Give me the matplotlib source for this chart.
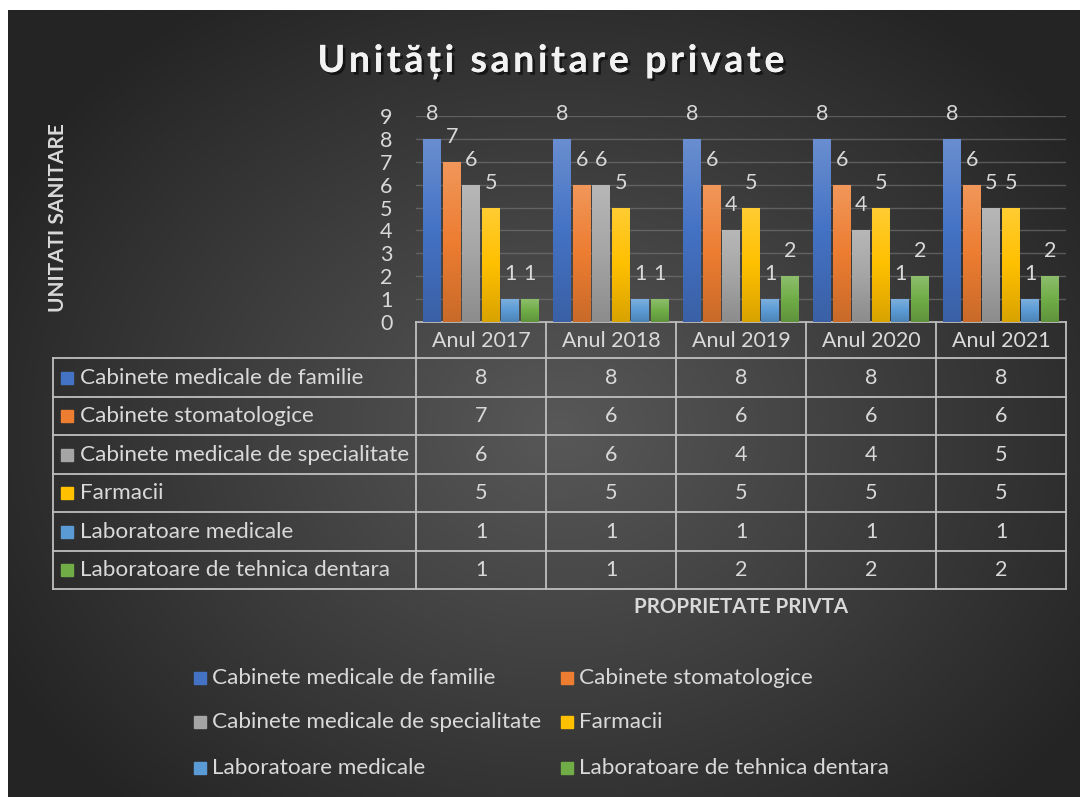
import numpy as np
import matplotlib
matplotlib.use("Agg")
import matplotlib.pyplot as plt
import matplotlib.patheffects as pe
from matplotlib.colors import LinearSegmentedColormap, to_rgb
from matplotlib.font_manager import FontProperties, findfont, get_font
from matplotlib.textpath import TextPath
from matplotlib.patches import PathPatch
from matplotlib.transforms import Affine2D

plt.rcParams['font.family'] = ['Lato', 'DejaVu Sans']

years = ['Anul 2017', 'Anul 2018', 'Anul 2019', 'Anul 2020', 'Anul 2021']
series = ['Cabinete medicale de familie', 'Cabinete stomatologice',
          'Cabinete medicale de specialitate', 'Farmacii',
          'Laboratoare medicale', 'Laboratoare de tehnica dentara']
familie = [8, 8, 8, 8, 8]
stomatologice = [7, 6, 6, 6, 6]
specialitate = [6, 6, 4, 4, 5]
farmacii = [5, 5, 5, 5, 5]
laboratoare = [1, 1, 1, 1, 1]
tehnica_dentara = [1, 1, 2, 2, 2]
values = [familie, stomatologice, specialitate, farmacii, laboratoare, tehnica_dentara]
colors = ['#4472C4', '#ED7D31', '#A5A5A5', '#FFC000', '#5B9BD5', '#70AD47']
title = 'Unități sanitare private'

W, H = 1080, 797
TXT = '#d9d9d9'
LINE = '#bfbfbf'

fig = plt.figure(figsize=(W / 100, H / 100), dpi=100)
fig.patch.set_facecolor('white')

# overlay axes in pixel coordinates (background, table, legend, titles)
ov = fig.add_axes([0, 0, 1, 1])
ov.axis('off')
ov.set_zorder(0)

# radial gradient background
gx, gy = np.meshgrid(np.linspace(8, W, 400), np.linspace(10, H, 300))
r = np.sqrt(((gx - 560) / 640) ** 2 + ((gy - 430) / 520) ** 2)
shade = 0x58 / 255 - (0x58 - 0x24) / 255 * np.clip(r, 0, 1)
ov.imshow(np.dstack([shade, shade, shade]), extent=(8, W, H, 10),
          aspect='auto', zorder=0, interpolation='bilinear')
ov.set_xlim(0, W)
ov.set_ylim(H, 0)

# bar chart
x0, x1, ytop, ybot = 416, 1066, 116, 322
ax = fig.add_axes([x0 / W, (H - ybot) / H, (x1 - x0) / W, (ybot - ytop) / H])
ax.set_zorder(1)
ax.patch.set_alpha(0)
for s in ax.spines.values():
    s.set_visible(False)
ax.set_xticks([])
ax.set_yticks(range(10))
ax.tick_params(axis='y', length=0, labelsize=15.5, labelcolor=TXT, pad=17)
ax.yaxis.grid(True, color='#7a7a7a', lw=1, alpha=0.6)
ax.set_axisbelow(True)

slot = 0.15
bw = 0.138
xs = np.arange(len(years))
for i, (vals, c) in enumerate(zip(values, colors)):
    pos = xs + (i - 2.5) * slot
    bars = ax.bar(pos, vals, width=bw, color=c, zorder=2)
    base = np.array(to_rgb(c))
    cmap = LinearSegmentedColormap.from_list(
        'g%d' % i, [base * 0.85, base, base + (1 - base) * 0.2])
    for b, v in zip(bars, vals):
        im = ax.imshow(np.linspace(0, 1, 64).reshape(-1, 1), cmap=cmap,
                       origin='lower', aspect='auto', zorder=3,
                       extent=(b.get_x(), b.get_x() + b.get_width(), 0, v))
        im.set_clip_path(b)
        ax.annotate(str(v), (b.get_x() + b.get_width() / 2, v),
                    xytext=(0, 25), textcoords='offset pixels',
                    ha='center', va='center', fontsize=15.5, color=TXT)
ax.set_xlim(-0.5, len(years) - 0.5)
ax.set_ylim(0, 9)

# letter-spaced title, drawn glyph by glyph
tprop = FontProperties(family='Lato', weight='bold')
tsize = 37.5
tfont = get_font(findfont(tprop))
tfont.set_size(tsize, 72)
adv = []
for ch in title:
    g = tfont.load_char(ord(ch))
    adv.append(g.linearHoriAdvance / 65536)
span = 467
gap = (span - sum(adv[:-1]) - adv[-1]) / (len(title) - 1)
tx = 551 - span / 2
for ch, a in zip(title, adv):
    if ch != ' ':
        tp = TextPath((0, 0), ch, size=tsize, prop=tprop)
        tr = Affine2D().scale(1, -1).translate(tx, 72) + ov.transData
        ov.add_patch(PathPatch(tp, transform=tr, facecolor='#f2f2f2', lw=0,
                               path_effects=[pe.withSimplePatchShadow(offset=(2, -2),
                                                                      shadow_rgbFace='black',
                                                                      alpha=0.55),
                                             pe.Normal()]))
    tx += a + gap

ov.text(58, 218, 'UNITATI SANITARE', rotation=90, ha='center', va='center',
        fontsize=15, fontweight='bold', color=TXT)
ov.text(741, 607, 'PROPRIETATE PRIVTA', ha='center', va='center',
        fontsize=14.8, fontweight='bold', color=TXT)

# data table
col_edges = [416, 546, 676, 806, 936, 1066]
row_edges = [358, 397, 435, 474, 512, 551, 589]
lw = 1.3
ov.plot([416, 1066], [322, 322], color=LINE, lw=lw)
for y in row_edges:
    ov.plot([53, 1066], [y, y], color=LINE, lw=lw)
ov.plot([53, 53], [358, 589], color=LINE, lw=lw)
for x in col_edges:
    ov.plot([x, x], [322, 589], color=LINE, lw=lw)
for j, yr in enumerate(years):
    cx = (col_edges[j] + col_edges[j + 1]) / 2
    ov.text(cx, 341, yr, ha='center', va='center', fontsize=15.5, color=TXT)
for i, (name, vals, c) in enumerate(zip(series, values, colors)):
    cy = (row_edges[i] + row_edges[i + 1]) / 2
    ov.add_patch(plt.Rectangle((61, cy - 6), 12, 12, color=c))
    ov.text(80, cy, name, ha='left', va='center', fontsize=16.2, color=TXT)
    for j, v in enumerate(vals):
        cx = (col_edges[j] + col_edges[j + 1]) / 2
        ov.text(cx, cy, str(v), ha='center', va='center', fontsize=15.5, color=TXT)

# legend
leg_x = [194, 561]
leg_y = [678, 722, 768]
for i, (name, c) in enumerate(zip(series, colors)):
    lx, ly = leg_x[i % 2], leg_y[i // 2]
    ov.add_patch(plt.Rectangle((lx, ly - 6), 12, 12, color=c))
    ov.text(lx + 18, ly, name, ha='left', va='center', fontsize=16.2, color=TXT)

ov.set_xlim(0, W)
ov.set_ylim(H, 0)

fig.savefig('out.png', dpi=100, facecolor=fig.get_facecolor())
